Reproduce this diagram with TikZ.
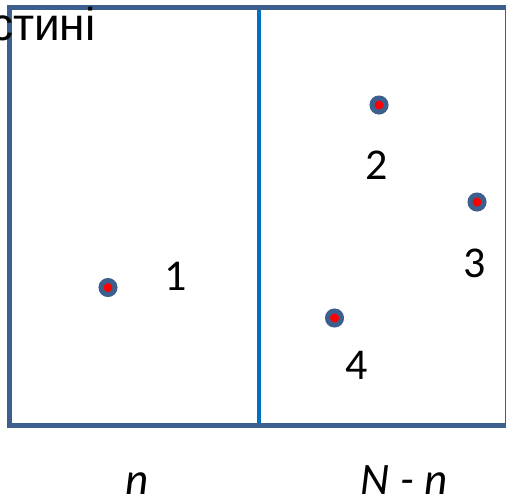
\documentclass[tikz,border=0pt]{standalone}
\usepackage{fontspec}
\setmainfont{Carlito}
\newfontfamily\arialfont{Liberation Sans}
\definecolor{framecol}{HTML}{3D5F8E}
\definecolor{dividercol}{HTML}{0070C0}
\tikzset{
  dotnode/.style={circle, draw=framecol, line width=5pt, fill=red, minimum size=14pt, inner sep=0pt},
  numlabel/.style={font=\fontsize{44}{44}\selectfont, inner sep=0pt, anchor=base},
  axislabel/.style={font=\fontsize{45}{45}\selectfont\itshape, inner sep=0pt, anchor=base}
}
\begin{document}
\begin{tikzpicture}[x=1pt,y=-1pt]
\useasboundingbox (0,0) rectangle (506,496);
% divider
\coordinate (dtop) at (259,7.5);
\coordinate (dbot) at (259,425.5);
\draw[dividercol, line width=4pt] (dtop) -- (dbot);
% frame
\draw[framecol, line width=5pt] (9.5,7.5) rectangle (507,425.5);
% title fragment
\node[font=\arialfont\fontsize{46}{46}\selectfont, inner sep=0pt, anchor=base west] (title) at (-10,40) {стині};
% dots
\node[dotnode] (p1) at (108,287.5) {};
\node[dotnode] (p2) at (379,105) {};
\node[dotnode] (p3) at (477,202) {};
\node[dotnode] (p4) at (334.5,318) {};
% numbers
\node[numlabel] (l1) at (176,290) {1};
\node[numlabel] (l2) at (377,179) {2};
\node[numlabel] (l3) at (475,277) {3};
\node[numlabel] (l4) at (357,379) {4};
% axis labels
\node[axislabel] (ln) at (137,494) {n};
\node[axislabel] (lNn) at (404,494) {N - n};
\end{tikzpicture}
\end{document}
